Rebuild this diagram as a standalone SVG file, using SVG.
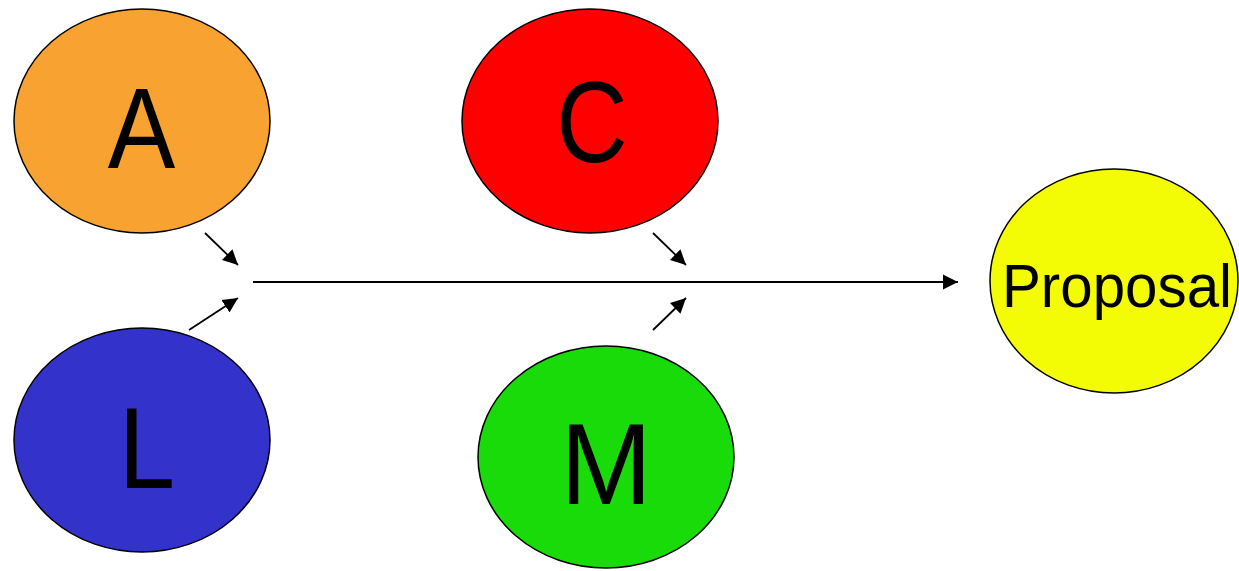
<svg xmlns="http://www.w3.org/2000/svg" width="1239" height="571" viewBox="0 0 1239 571">
<style>
.node{stroke:#000;stroke-width:1.5}
.big{font-family:"Liberation Sans",Arial,sans-serif;font-size:115px;fill:#000;text-anchor:middle}
.lbl{font-family:"Liberation Sans",Arial,sans-serif;font-size:61px;fill:#000;text-anchor:middle}
.conn{stroke:#000;stroke-width:1.8;fill:none;marker-end:url(#ah)}
</style>
<defs>
<marker id="ah" markerUnits="userSpaceOnUse" markerWidth="16" markerHeight="16" viewBox="0 0 16 16" refX="15" refY="8" orient="auto">
<path d="M0,0.5 L15,8 L0,15.5 Z" fill="#000"/>
</marker>
</defs>
<rect width="1239" height="571" fill="#fff"/>
<g id="node-A"><ellipse class="node" cx="142" cy="121" rx="128" ry="112" fill="#F8A232"/><text class="big" transform="translate(141.5,168) scale(0.88,1)">A</text></g>
<g id="node-C"><ellipse class="node" cx="590" cy="121" rx="128" ry="112" fill="#FF0000"/><text class="big" transform="translate(592,162) scale(0.86,1)">C</text></g>
<g id="node-L"><ellipse class="node" cx="142" cy="440" rx="128" ry="112" fill="#3333CC"/><text class="big" transform="translate(147,488) scale(0.88,1)">L</text></g>
<g id="node-M"><ellipse class="node" cx="606" cy="457" rx="128" ry="111" fill="#19DB0A"/><text class="big" transform="translate(606,504) scale(0.96,1)">M</text></g>
<g id="node-Proposal"><ellipse class="node" cx="1114" cy="281" rx="124" ry="112" fill="#F4FC05"/><text class="lbl" x="1117" y="307" textLength="230" lengthAdjust="spacingAndGlyphs">Proposal</text></g>
<g id="connectors">
<line class="conn" x1="253" y1="282" x2="958" y2="282"/>
<line class="conn" x1="205" y1="233" x2="238" y2="265"/>
<line class="conn" x1="189" y1="330" x2="238" y2="298"/>
<line class="conn" x1="653" y1="233" x2="686" y2="265"/>
<line class="conn" x1="653" y1="330" x2="686" y2="298"/>
</g>
</svg>
